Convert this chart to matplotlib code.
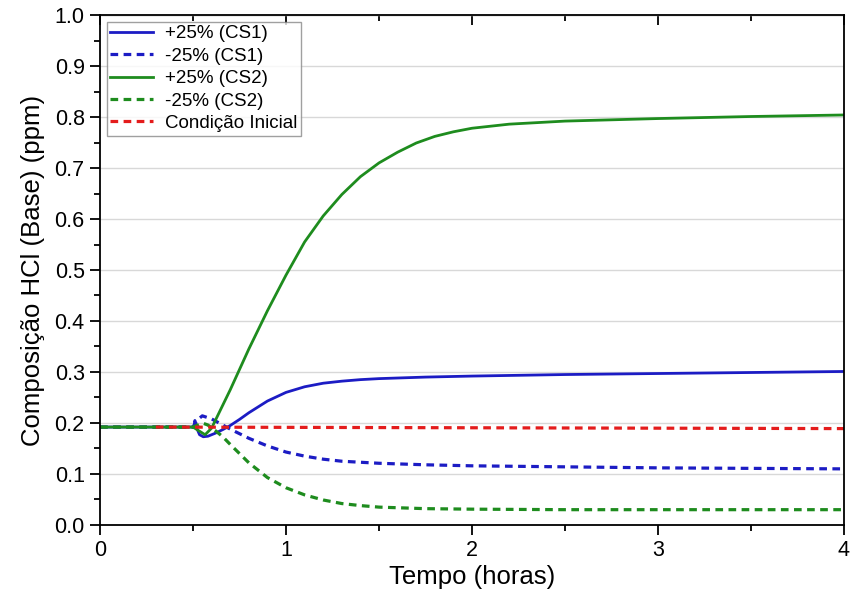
import numpy as np
import matplotlib
matplotlib.use('Agg')
import matplotlib.pyplot as plt
from matplotlib.ticker import MultipleLocator, FormatStrFormatter

plt.rcParams['font.family'] = ['Liberation Sans', 'DejaVu Sans']

# +25% (CS1)
x_cs1_up = [0, 0.505, 0.51, 0.52, 0.535, 0.555, 0.58, 0.62, 0.66, 0.7, 0.75, 0.8, 0.9, 1.0,
            1.1, 1.2, 1.3, 1.4, 1.5, 1.75, 2.0, 2.5, 3.0, 3.5, 4.0]
y_cs1_up = [0.192, 0.192, 0.205, 0.19, 0.177, 0.173, 0.174, 0.18, 0.187, 0.195, 0.207, 0.22,
            0.243, 0.26, 0.271, 0.278, 0.282, 0.285, 0.287, 0.29, 0.292, 0.295, 0.297, 0.299, 0.301]
# -25% (CS1)
x_cs1_dn = [0, 0.5, 0.52, 0.55, 0.6, 0.66, 0.7, 0.8, 0.9, 1.0, 1.1, 1.2, 1.3, 1.5,
            1.75, 2.0, 2.5, 3.0, 3.5, 4.0]
y_cs1_dn = [0.192, 0.192, 0.205, 0.214, 0.208, 0.196, 0.188, 0.17, 0.155, 0.143, 0.135, 0.129,
            0.125, 0.121, 0.118, 0.116, 0.114, 0.112, 0.111, 0.110]
# +25% (CS2)
x_cs2_up = [0, 0.5, 0.53, 0.565, 0.6, 0.66, 0.7, 0.8, 0.9, 1.0, 1.1, 1.2, 1.3, 1.4, 1.5,
            1.6, 1.7, 1.8, 1.9, 2.0, 2.2, 2.5, 3.0, 3.5, 4.0]
y_cs2_up = [0.192, 0.192, 0.185, 0.177, 0.19, 0.235, 0.265, 0.345, 0.42, 0.49, 0.555, 0.606,
            0.648, 0.683, 0.71, 0.731, 0.749, 0.762, 0.771, 0.778, 0.786, 0.792, 0.797, 0.801, 0.804]
# -25% (CS2)
x_cs2_dn = [0, 0.5, 0.55, 0.58, 0.62, 0.66, 0.7, 0.8, 0.9, 1.0, 1.1, 1.2, 1.3, 1.4, 1.5,
            1.75, 2.0, 2.5, 3.0, 4.0]
y_cs2_dn = [0.192, 0.192, 0.2, 0.196, 0.185, 0.173, 0.158, 0.122, 0.093, 0.073, 0.059, 0.049,
            0.042, 0.038, 0.035, 0.032, 0.031, 0.03, 0.03, 0.03]
# Condicao inicial
x_ini = [0.3, 4.0]
y_ini = [0.192, 0.189]

labels = ['+25% (CS1)', '-25% (CS1)', '+25% (CS2)', '-25% (CS2)', 'Condição Inicial']
blue = '#1c1cc4'
green = '#1e8c1e'
red = '#e41c1c'

fig = plt.figure(figsize=(8.52, 6.01), dpi=100)
ax = fig.add_axes([0.1174, 0.1265, 0.8732, 0.8485])

ax.plot(x_cs1_up, y_cs1_up, color=blue, lw=2, label=labels[0])
ax.plot(x_cs1_dn, y_cs1_dn, color=blue, lw=2.3, dashes=(2.4, 1.7), label=labels[1])
ax.plot(x_cs2_up, y_cs2_up, color=green, lw=2, label=labels[2])
ax.plot(x_cs2_dn, y_cs2_dn, color=green, lw=2.3, dashes=(2.4, 1.7), label=labels[3])
ax.plot(x_ini, y_ini, color=red, lw=2.3, dashes=(2.4, 1.7), label=labels[4])

ax.set_xlim(0, 4)
ax.set_ylim(0, 1.0)
ax.xaxis.set_major_locator(MultipleLocator(1))
ax.xaxis.set_minor_locator(MultipleLocator(0.5))
ax.yaxis.set_major_locator(MultipleLocator(0.1))
ax.yaxis.set_minor_locator(MultipleLocator(0.05))
ax.yaxis.set_major_formatter(FormatStrFormatter('%.1f'))
ax.grid(axis='y', color='#d8d8d8', lw=1)
ax.set_axisbelow(True)

ax.tick_params(which='both', direction='out', width=1.3, labelsize=15.5, top=False, right=False)
ax.tick_params(which='major', length=7, pad=4)
ax.tick_params(which='minor', length=4)
for s in ax.spines.values():
    s.set_linewidth(1.3)

# mirrored inward ticks on top
axt = ax.secondary_xaxis('top')
axt.xaxis.set_major_locator(MultipleLocator(1))
axt.xaxis.set_minor_locator(MultipleLocator(0.5))
axt.tick_params(which='both', direction='in', labeltop=False, width=1.3)
axt.tick_params(which='major', length=7)
axt.tick_params(which='minor', length=4)

ax.set_xlabel('Tempo (horas)', fontsize=18.5, labelpad=3)
ax.set_ylabel('Composição HCl (Base) (ppm)', fontsize=18.5, labelpad=7)

leg = ax.legend(loc='upper left', fontsize=13.5, frameon=True, fancybox=False, shadow=False,
                borderaxespad=0.35, handlelength=2.3, handletextpad=0.6, labelspacing=0.28,
                borderpad=0.2)
leg.get_frame().set_edgecolor('#888888')
leg.get_frame().set_linewidth(1)

fig.savefig('out.png', dpi=100)
